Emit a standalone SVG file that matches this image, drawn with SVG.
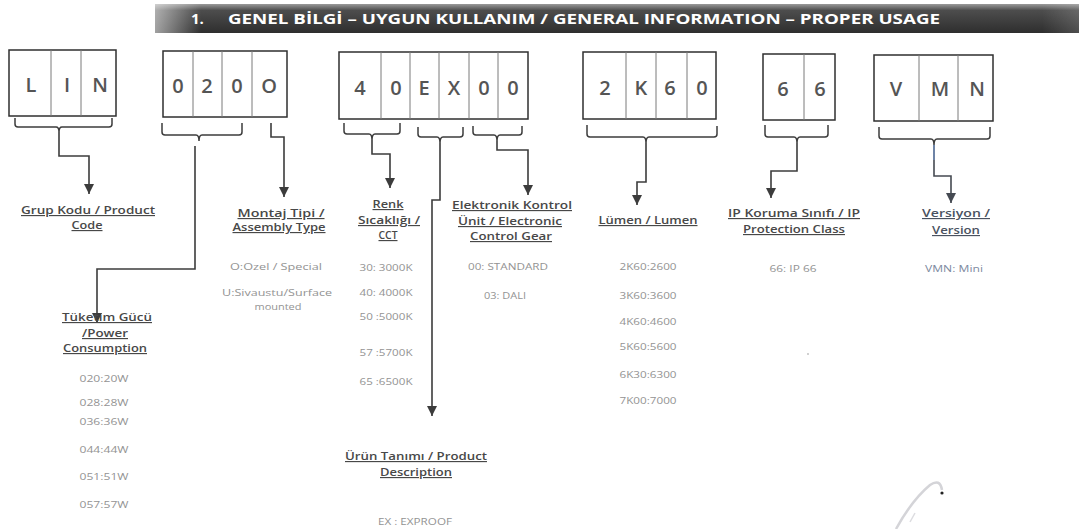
<svg xmlns="http://www.w3.org/2000/svg" width="1079" height="529" viewBox="0 0 1079 529">
<defs>
<linearGradient id="barV" x1="0" y1="0" x2="0" y2="1">
<stop offset="0" stop-color="#9a9a9a"/>
<stop offset="0.22" stop-color="#4d4d4d"/>
<stop offset="1" stop-color="#2e2e2e"/>
</linearGradient>
<linearGradient id="barH" x1="0" y1="0" x2="1" y2="0">
<stop offset="0" stop-color="#ffffff" stop-opacity="0.55"/>
<stop offset="0.05" stop-color="#ffffff" stop-opacity="0"/>
<stop offset="0.96" stop-color="#ffffff" stop-opacity="0"/>
<stop offset="1" stop-color="#ffffff" stop-opacity="0.15"/>
</linearGradient>
<marker id="arr" markerUnits="userSpaceOnUse" markerWidth="10" markerHeight="10" refX="10" refY="5" orient="auto">
<path d="M0,0 L10,5 L0,10 z" fill="#3c3c3c"/>
</marker>
<marker id="arrB" markerUnits="userSpaceOnUse" markerWidth="10" markerHeight="10" refX="10" refY="5" orient="auto">
<path d="M0,0 L10,5 L0,10 z" fill="#454a52"/>
</marker>
</defs>
<style>
.box{fill:#fff;stroke:#2f2f2f;stroke-width:1.5}
.div{stroke:#7a7a7a;stroke-width:1}
.ch{font-family:"Open Sans","Liberation Sans",sans-serif;font-size:20px;font-weight:600;fill:#555;text-anchor:middle}
.lbl{font-family:"Open Sans","Liberation Sans",sans-serif;font-size:11.5px;font-weight:600;fill:#484848;text-anchor:middle;text-decoration:underline}
.val{font-family:"Open Sans","Liberation Sans",sans-serif;font-size:9.5px;fill:#939393;text-anchor:middle}
.br{fill:none;stroke:#3c3c3c;stroke-width:1.5}
.cn{fill:none;stroke:#3c3c3c;stroke-width:1.6;marker-end:url(#arr)}
.hdr{font-family:"Open Sans","Liberation Sans",sans-serif;font-size:15px;font-weight:700;fill:#fff}
</style>
<rect width="1079" height="529" fill="#fff"/>
<g id="header">
<rect x="155" y="4" width="924" height="29" fill="url(#barV)"/>
<rect x="155" y="4" width="924" height="29" fill="url(#barH)"/>
<text class="hdr" x="191" y="24">1.</text>
<text class="hdr" x="228" y="24" textLength="712" lengthAdjust="spacingAndGlyphs">GENEL BİLGİ – UYGUN KULLANIM / GENERAL INFORMATION – PROPER USAGE</text>
</g>
<g id="box-LIN">
<rect class="box" x="9" y="50" width="107" height="66"/>
<line class="div" x1="51" y1="50" x2="51" y2="116"/>
<line class="div" x1="81" y1="50" x2="81" y2="116"/>
<text class="ch" x="31" y="92">L</text><text class="ch" x="67" y="92">I</text><text class="ch" x="100" y="92">N</text>
</g>
<g id="box-0200">
<rect class="box" x="163" y="51" width="124" height="66"/>
<line class="div" x1="193" y1="51" x2="193" y2="117"/>
<line class="div" x1="222" y1="51" x2="222" y2="117"/>
<line class="div" x1="252" y1="51" x2="252" y2="117"/>
<text class="ch" x="178" y="93">0</text><text class="ch" x="207" y="93">2</text><text class="ch" x="237" y="93">0</text><text class="ch" x="269" y="93">O</text>
</g>
<g id="box-40EX00">
<rect class="box" x="339" y="52" width="189" height="67"/>
<line class="div" x1="381" y1="52" x2="381" y2="119"/>
<line class="div" x1="410" y1="52" x2="410" y2="119"/>
<line class="div" x1="439" y1="52" x2="439" y2="119"/>
<line class="div" x1="469" y1="52" x2="469" y2="119"/>
<line class="div" x1="498" y1="52" x2="498" y2="119"/>
<text class="ch" x="360" y="95">4</text><text class="ch" x="396" y="95">0</text><text class="ch" x="424" y="95">E</text><text class="ch" x="454" y="95">X</text><text class="ch" x="484" y="95">0</text><text class="ch" x="513" y="95">0</text>
</g>
<g id="box-2K60">
<rect class="box" x="583" y="52" width="133" height="67"/>
<line class="div" x1="626" y1="52" x2="626" y2="119"/>
<line class="div" x1="656" y1="52" x2="656" y2="119"/>
<line class="div" x1="687" y1="52" x2="687" y2="119"/>
<text class="ch" x="605" y="95">2</text><text class="ch" x="641" y="95">K</text><text class="ch" x="670" y="95">6</text><text class="ch" x="702" y="95">0</text>
</g>
<g id="box-66">
<rect class="box" x="763" y="54" width="72" height="66"/>
<line class="div" x1="804" y1="54" x2="804" y2="120"/>
<text class="ch" x="783" y="96">6</text><text class="ch" x="820" y="96">6</text>
</g>
<g id="box-VMN">
<rect class="box" x="874" y="55" width="119" height="66"/>
<line class="div" x1="919" y1="55" x2="919" y2="121"/>
<line class="div" x1="958" y1="55" x2="958" y2="121"/>
<text class="ch" x="896" y="96">V</text><text class="ch" x="940" y="96">M</text><text class="ch" x="977" y="96">N</text>
</g>
<g id="connectors">
<path class="br" d="M15,118 V124 Q15,127 18,127 H56 Q59,127 59,132 Q59,127 62,127 H109 Q112,127 112,124 V118"/>
<path class="br" d="M162,123 V132 Q162,135 165,135 H196 Q199,135 199,141 Q199,135 202,135 H239 Q242,135 242,132 V123"/>
<path class="br" d="M344,123 V131 Q344,134 347,134 H369 Q372,134 372,140 Q372,134 375,134 H397 Q400,134 400,131 V123"/>
<path class="br" d="M418,127 V134 Q418,137 421,137 H437 Q440,137 440,143 Q440,137 443,137 H460 Q463,137 463,134 V127"/>
<path class="br" d="M473,126 V132 Q473,135 476,135 H494 Q497,135 497,141 Q497,135 500,135 H519 Q522,135 522,132 V126"/>
<path class="br" d="M587,125 V134 Q587,137 590,137 H643 Q646,137 646,143 Q646,137 649,137 H714 Q717,137 717,134 V126"/>
<path class="br" d="M765,125 V134 Q765,137 768,137 H794 Q797,137 797,143 Q797,137 800,137 H825 Q828,137 828,134 V125"/>
<path class="br" d="M879,127 V136 Q879,139 882,139 H931 Q934,139 934,145 Q934,139 937,139 H987 Q990,139 990,136 V127"/>
<path class="cn" d="M59,132 V156 H89 V194"/>
<path class="cn" d="M195,146 V269 H97 V323"/>
<path class="cn" d="M271,123 V137 H284 V197"/>
<path class="cn" d="M372,140 V154 H390 V188"/>
<path class="cn" d="M440,143 V200 H432 V416"/>
<path class="cn" d="M497,141 V150 H528 V195"/>
<path class="cn" d="M646,143 V182 H637 V205"/>
<path class="cn" d="M797,143 V171 H771 V198"/>
<path d="M934,145 V160" fill="none" stroke="#4a6590" stroke-width="1.6"/>
<path d="M934,160 V176 H951 V203" fill="none" stroke="#454a52" stroke-width="1.6" marker-end="url(#arrB)"/>
</g>
<g id="grup-kodu">
<text class="lbl" x="88" y="214" textLength="134" lengthAdjust="spacingAndGlyphs">Grup Kodu / Product</text>
<text class="lbl" x="87" y="229" textLength="31" lengthAdjust="spacingAndGlyphs">Code</text>
</g>
<g id="montaj-tipi">
<text class="lbl" x="281" y="217" textLength="87" lengthAdjust="spacingAndGlyphs">Montaj Tipi /</text>
<text class="lbl" x="279" y="231" textLength="93" lengthAdjust="spacingAndGlyphs">Assembly Type</text>
<text class="val" x="276" y="270" textLength="92" lengthAdjust="spacingAndGlyphs">O:Ozel / Special</text>
<text class="val" x="277" y="296" textLength="110" lengthAdjust="spacingAndGlyphs">U:Sivaustu/Surface</text>
<text class="val" x="278" y="310" textLength="47" lengthAdjust="spacingAndGlyphs">mounted</text>
</g>
<g id="tuketim-gucu">
<text class="lbl" x="107" y="321" textLength="90" lengthAdjust="spacingAndGlyphs">Tüketim Gücü</text>
<text class="lbl" x="105" y="337" textLength="46" lengthAdjust="spacingAndGlyphs">/Power</text>
<text class="lbl" x="105" y="352" textLength="84" lengthAdjust="spacingAndGlyphs">Consumption</text>
<text class="val" x="104" y="382" textLength="49" lengthAdjust="spacingAndGlyphs">020:20W</text>
<text class="val" x="104" y="406" textLength="49" lengthAdjust="spacingAndGlyphs">028:28W</text>
<text class="val" x="104" y="425" textLength="49" lengthAdjust="spacingAndGlyphs">036:36W</text>
<text class="val" x="104" y="453" textLength="49" lengthAdjust="spacingAndGlyphs">044:44W</text>
<text class="val" x="104" y="480" textLength="49" lengthAdjust="spacingAndGlyphs">051:51W</text>
<text class="val" x="104" y="508" textLength="49" lengthAdjust="spacingAndGlyphs">057:57W</text>
</g>
<g id="renk-sicakligi">
<text class="lbl" x="388" y="208" textLength="31" lengthAdjust="spacingAndGlyphs">Renk</text>
<text class="lbl" x="389" y="224" textLength="62" lengthAdjust="spacingAndGlyphs">Sıcaklığı /</text>
<text class="lbl" x="388" y="239" textLength="19" lengthAdjust="spacingAndGlyphs">CCT</text>
<text class="val" x="386" y="271" textLength="53" lengthAdjust="spacingAndGlyphs">30: 3000K</text>
<text class="val" x="386" y="296" textLength="53" lengthAdjust="spacingAndGlyphs">40: 4000K</text>
<text class="val" x="386" y="320" textLength="53" lengthAdjust="spacingAndGlyphs">50 :5000K</text>
<text class="val" x="386" y="356" textLength="53" lengthAdjust="spacingAndGlyphs">57 :5700K</text>
<text class="val" x="386" y="385" textLength="53" lengthAdjust="spacingAndGlyphs">65 :6500K</text>
</g>
<g id="elektronik-kontrol">
<text class="lbl" x="512" y="209" textLength="120" lengthAdjust="spacingAndGlyphs">Elektronik Kontrol</text>
<text class="lbl" x="510" y="225" textLength="104" lengthAdjust="spacingAndGlyphs">Ünit / Electronic</text>
<text class="lbl" x="511" y="240" textLength="82" lengthAdjust="spacingAndGlyphs">Control Gear</text>
<text class="val" x="508" y="270" textLength="80" lengthAdjust="spacingAndGlyphs">00: STANDARD</text>
<text class="val" x="505" y="299" textLength="42" lengthAdjust="spacingAndGlyphs">03: DALI</text>
</g>
<g id="lumen">
<text class="lbl" x="648" y="224" textLength="99" lengthAdjust="spacingAndGlyphs">Lümen / Lumen</text>
<text class="val" x="648" y="270" textLength="57" lengthAdjust="spacingAndGlyphs">2K60:2600</text>
<text class="val" x="648" y="299" textLength="57" lengthAdjust="spacingAndGlyphs">3K60:3600</text>
<text class="val" x="648" y="325" textLength="57" lengthAdjust="spacingAndGlyphs">4K60:4600</text>
<text class="val" x="648" y="350" textLength="57" lengthAdjust="spacingAndGlyphs">5K60:5600</text>
<text class="val" x="648" y="378" textLength="57" lengthAdjust="spacingAndGlyphs">6K30:6300</text>
<text class="val" x="648" y="404" textLength="57" lengthAdjust="spacingAndGlyphs">7K00:7000</text>
</g>
<g id="ip-koruma">
<text class="lbl" x="794" y="217" textLength="132" lengthAdjust="spacingAndGlyphs">IP Koruma Sınıfı / IP</text>
<text class="lbl" x="794" y="233" textLength="102" lengthAdjust="spacingAndGlyphs">Protection Class</text>
<text class="val" x="793" y="272" textLength="47" lengthAdjust="spacingAndGlyphs">66: IP 66</text>
</g>
<g id="versiyon">
<text class="lbl" x="956" y="217" textLength="68" lengthAdjust="spacingAndGlyphs" style="fill:#4a5260">Versiyon /</text>
<text class="lbl" x="956" y="234" textLength="48" lengthAdjust="spacingAndGlyphs" style="fill:#4a5260">Version</text>
<text class="val" x="954" y="272" textLength="58" lengthAdjust="spacingAndGlyphs" style="fill:#7d8aa0">VMN: Mini</text>
</g>
<g id="urun-tanimi">
<text class="lbl" x="416" y="460" textLength="142" lengthAdjust="spacingAndGlyphs">Ürün Tanımı / Product</text>
<text class="lbl" x="416" y="476" textLength="72" lengthAdjust="spacingAndGlyphs">Description</text>
<text class="val" x="415" y="525" textLength="74" lengthAdjust="spacingAndGlyphs">EX : EXPROOF</text>
</g>
<g id="scan-marks">
<path d="M896,529 Q912,500 930,485 Q940,478 942,490" fill="none" stroke="#d4d4d8" stroke-width="2.5"/>
<path d="M910,522 L915,513" fill="none" stroke="#dcdce0" stroke-width="1.5"/>
<circle cx="942" cy="493" r="1.6" fill="#222"/>
<circle cx="808" cy="354" r="0.9" fill="#bbb"/>
</g>
</svg>
